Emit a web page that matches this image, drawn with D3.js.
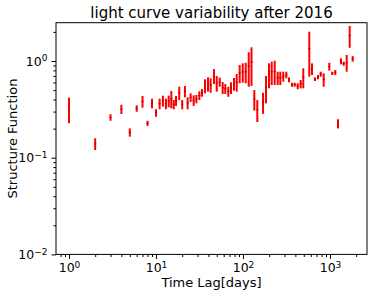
<!DOCTYPE html>
<html>
<head>
<meta charset="utf-8">
<script src="https://cdn.jsdelivr.net/npm/d3@7"></script>
<style>
  body { margin: 0; background: #fff; }
  svg text { font-family: "DejaVu Sans", sans-serif; fill: #000; }
  .axis path, .axis line { stroke: #000; }
</style>
</head>
<body>
<div id="chart"></div>
<script>
// time lag bins (days)
const lags = [1, 2, 3, 4, 5, 6, 7, 8, 9, 10, 11, 12, 13, 14, 15, 16, 17, 18.5, 20, 21.5,
  23.1, 25, 27.1, 29.1, 31.5, 33.8, 36.6, 39.6, 42.5, 46.4, 49.9, 54, 58.4, 62.6, 67.8,
  72.8, 78.8, 84.7, 91.6, 99.3, 107.4, 116.4, 125.3, 134.9, 146, 169.8, 183.8, 199,
  213.8, 231.4, 250.5, 268.5, 290.5, 314.7, 337.9, 365.7, 392.8, 425.3, 460.3, 493.2,
  578.3, 621, 672.4, 727.8, 782, 846.6, 981.8, 1062, 1150, 1236, 1337, 1436, 1556, 1684, 1823];
// upper end of each error bar
const sfHigh = [0.418, 0.159, 0.281, 0.353, 0.201, 0.348, 0.435, 0.241, 0.408, 0.317,
  0.408, 0.438, 0.408, 0.438, 0.49, 0.395, 0.435, 0.542, 0.395, 0.552,
  0.421, 0.463, 0.442, 0.445, 0.486, 0.513, 0.647, 0.678, 0.662, 0.826, 0.70, 0.673,
  0.606, 0.578, 0.542, 0.602, 0.667, 0.734, 0.909, 0.946, 0.96, 1.23, 1.386, 0.501,
  0.395, 0.47, 0.70, 0.946, 0.984, 1.007, 0.775, 0.775, 0.775, 0.775, 0.678, 0.597,
  0.597, 0.588, 0.636, 0.84, 2.01, 0.946, 0.678, 0.717, 0.775, 0.746, 0.96, 0.775,
  0.807, 0.25, 1.066, 0.984, 1.154, 2.3, 1.13];
// lower end of each error bar
const sfLow = [0.227, 0.12, 0.241, 0.283, 0.165, 0.299, 0.329, 0.213, 0.324, 0.265,
  0.317, 0.337, 0.317, 0.332, 0.324, 0.317, 0.343, 0.395, 0.317, 0.421,
  0.317, 0.377, 0.343, 0.365, 0.395, 0.427, 0.463, 0.482, 0.47, 0.578, 0.482, 0.542,
  0.456, 0.456, 0.427, 0.456, 0.493, 0.482, 0.588, 0.597, 0.588, 0.542, 0.552, 0.307,
  0.234, 0.284, 0.365, 0.522, 0.565, 0.565, 0.565, 0.565, 0.611, 0.662, 0.602, 0.542,
  0.542, 0.51, 0.522, 0.522, 0.688, 0.717, 0.621, 0.647, 0.688, 0.542, 0.794, 0.717,
  0.717, 0.201, 0.924, 0.894, 0.775, 1.37, 0.984];

const xMajor = [1, 10, 100, 1000];
const yMajor = [0.01, 0.1, 1];

const W = 374, H = 295;
const margin = { top: 22.7, right: 7, bottom: 40.6, left: 56 };
const width = W - margin.left - margin.right;
const height = H - margin.top - margin.bottom;

const svg = d3.select("#chart").append("svg")
  .attr("width", W).attr("height", H);
const g = svg.append("g")
  .attr("transform", `translate(${margin.left},${margin.top})`);

const x = d3.scaleLog().domain([0.709, 2663]).range([0, width]);
const y = d3.scaleLog().domain([0.01, 2.49]).range([height, 0]);

function minorTicks(lo, hi) {
  const out = [];
  for (let e = -3; e <= 4; e++) {
    for (let m = 2; m <= 9; m++) {
      const v = m * Math.pow(10, e);
      if (v >= lo && v <= hi) out.push(v);
    }
  }
  return out;
}

// superscript labels like matplotlib's 10^n
function powLabel(sel) {
  sel.each(function(d) {
    const t = d3.select(this);
    const e = Math.round(Math.log10(d));
    t.text("10");
    t.append("tspan")
      .attr("dy", "-0.45em")
      .attr("font-size", "0.72em")
      .text(e < 0 ? "\u2212" + (-e) : e);
  });
}

// minor ticks
g.append("g").attr("class", "axis")
  .attr("transform", `translate(0,${height})`)
  .call(d3.axisBottom(x).tickValues(minorTicks(0.709, 2663)).tickSize(2.6).tickFormat(""))
  .call(s => s.select(".domain").remove());
g.append("g").attr("class", "axis")
  .call(d3.axisLeft(y).tickValues(minorTicks(0.01, 2.49)).tickSize(2.6).tickFormat(""))
  .call(s => s.select(".domain").remove());

// major ticks
const xAxis = g.append("g").attr("class", "axis")
  .attr("transform", `translate(0,${height})`)
  .call(d3.axisBottom(x).tickValues(xMajor).tickSize(4.5).tickPadding(4))
  .call(s => s.select(".domain").remove());
xAxis.selectAll("text").attr("font-size", 12.5).call(powLabel);

const yAxis = g.append("g").attr("class", "axis")
  .call(d3.axisLeft(y).tickValues(yMajor).tickSize(4.5).tickPadding(4))
  .call(s => s.select(".domain").remove());
yAxis.selectAll("text").attr("font-size", 12.5).call(powLabel);

// error bars
const bars = g.append("g");
lags.forEach((lag, i) => {
  bars.append("line")
    .attr("x1", x(lag)).attr("x2", x(lag))
    .attr("y1", y(sfHigh[i])).attr("y2", y(sfLow[i]))
    .attr("stroke", "#ff0000")
    .attr("stroke-width", 2);
  bars.append("line")
    .attr("x1", x(lag)).attr("x2", x(lag))
    .attr("y1", y((sfHigh[i] + sfLow[i]) / 2) - 0.7)
    .attr("y2", y((sfHigh[i] + sfLow[i]) / 2) + 0.7)
    .attr("stroke", "#c80000")
    .attr("stroke-width", 2);
});

// frame
g.append("rect")
  .attr("width", width).attr("height", height)
  .attr("fill", "none").attr("stroke", "#000").attr("stroke-width", 1);

svg.append("text")
  .attr("x", margin.left + width / 2)
  .attr("y", 18)
  .attr("text-anchor", "middle")
  .attr("font-size", 15)
  .text("light curve variability after 2016");

svg.append("text")
  .attr("x", margin.left + width / 2)
  .attr("y", 287)
  .attr("text-anchor", "middle")
  .attr("font-size", 13)
  .text("Time Lag[days]");

svg.append("text")
  .attr("transform", "rotate(-90)")
  .attr("x", -(margin.top + height / 2))
  .attr("y", 17)
  .attr("text-anchor", "middle")
  .attr("font-size", 13)
  .text("Structure Function");
</script>
</body>
</html>
